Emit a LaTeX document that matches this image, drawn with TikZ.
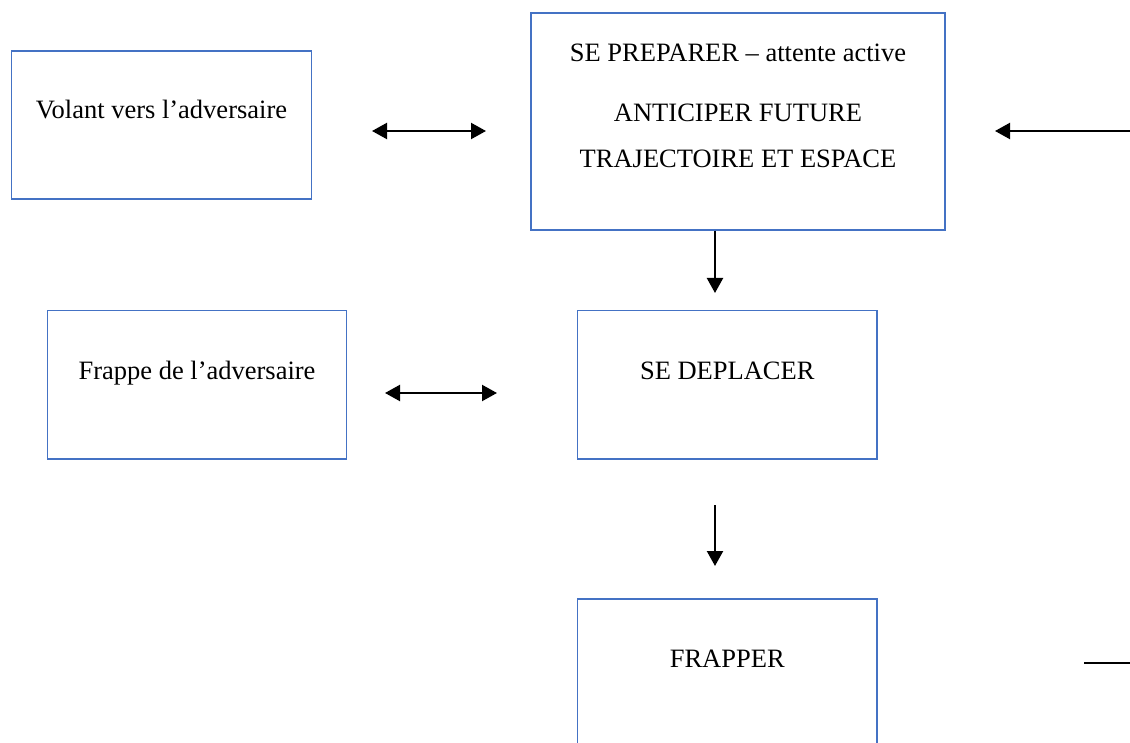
\documentclass[tikz,border=0pt]{standalone}
\usepackage{fontspec}
\setmainfont{Liberation Serif}
\usetikzlibrary{arrows.meta}
\definecolor{boxblue}{HTML}{4472C4}
\begin{document}
\begin{tikzpicture}[x=1pt,y=-1pt,
  box/.style={draw=boxblue,line width=1.3pt,rectangle,inner sep=0pt},
  lbl/.style={anchor=base,inner sep=0pt,font=\fontsize{26.5}{32}\selectfont},
  conn/.style={line width=2.2pt,-{Triangle[length=15pt,width=16pt]}},
  dconn/.style={line width=2.2pt,{Triangle[length=15pt,width=16pt]}-{Triangle[length=15pt,width=16pt]}},
  plain/.style={line width=2.2pt}]
\useasboundingbox (0,0) rectangle (1130,743);
\clip (0,0) rectangle (1130,743);
% boxes
\node[box,minimum width=300pt,minimum height=148pt] (volant) at (161.5,125) {};
\node[box,minimum width=414pt,minimum height=217pt] (prep) at (738,121.5) {};
\node[box,minimum width=299pt,minimum height=148.5pt] (frappe) at (197,384.75) {};
\node[box,minimum width=299.5pt,minimum height=148.5pt] (depl) at (727.25,384.75) {};
\node[box,minimum width=299.5pt,minimum height=170pt] (frapper) at (727.25,684) {};
% texts
\node[lbl] (tvolant) at (161.5,119) {Volant vers l’adversaire};
\node[lbl] (tprep1) at (738,62) {SE PREPARER – attente active};
\node[lbl] (tprep2) at (738,122) {ANTICIPER FUTURE};
\node[lbl] (tprep3) at (738,168) {TRAJECTOIRE ET ESPACE};
\node[lbl] (tfrappe) at (197,379) {Frappe de l’adversaire};
\node[lbl] (tdepl) at (727.25,379) {SE DEPLACER};
\node[lbl] (tfrapper) at (727.25,667) {FRAPPER};
% connector end points
\coordinate (a1l) at (372,131);
\coordinate (a1r) at (486,131);
\coordinate (a2s) at (1131,131);
\coordinate (a2e) at (995,131);
\coordinate (a3e) at (715,293);
\coordinate (a4l) at (385,393);
\coordinate (a4r) at (497,393);
\coordinate (a5s) at (715,505);
\coordinate (a5e) at (715,566);
\coordinate (l1s) at (1084,663);
\coordinate (l1e) at (1131,663);
% connectors
\draw[dconn] (a1l) -- (a1r);
\draw[conn] (a2s) -- (a2e);
\draw[conn] (prep.south -| a3e) -- (a3e);
\draw[dconn] (a4l) -- (a4r);
\draw[conn] (a5s) -- (a5e);
\draw[plain] (l1s) -- (l1e);
\end{tikzpicture}
\end{document}
